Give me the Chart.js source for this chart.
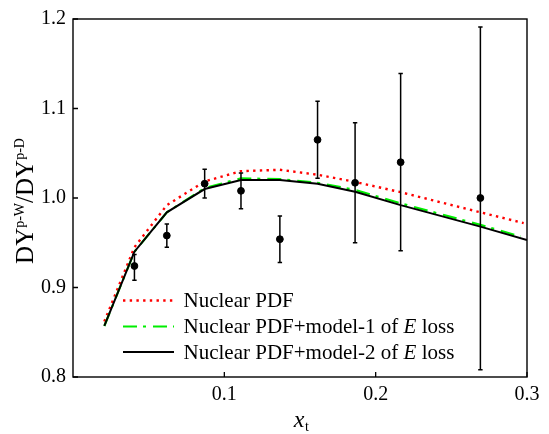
<!DOCTYPE html>
<html><head><meta charset="utf-8">
<script src="https://cdn.jsdelivr.net/npm/chart.js@4.4.1/dist/chart.umd.min.js"></script>
<style>html,body{margin:0;padding:0;background:#fff;}#wrap{width:549px;height:434px;}</style>
</head><body><div id="wrap"><canvas id="c" width="549" height="434"></canvas></div>
<script>
// ---- data ----
const xData    = [0.0406, 0.062, 0.087, 0.111, 0.1367, 0.1616, 0.1864, 0.2165, 0.2692];
const yData    = [0.924, 0.958, 1.016, 1.008, 0.954, 1.065, 1.017, 1.040, 1.000];
const yErrLow  = [0.908, 0.945, 1.000, 0.988, 0.928, 1.022, 0.950, 0.941, 0.808];
const yErrHigh = [0.937, 0.971, 1.032, 1.028, 0.980, 1.108, 1.084, 1.139, 1.191];

const xNPDF   = [0.0207, 0.0406, 0.062, 0.087, 0.111, 0.1367, 0.1616, 0.1864, 0.2165, 0.2692, 0.2978];
const yNPDF   = [0.862, 0.945, 0.992, 1.0185, 1.030, 1.0315, 1.026, 1.018, 1.0065, 0.984, 0.972];
const xModel1 = [0.0207, 0.0406, 0.062, 0.087, 0.111, 0.1367, 0.1616, 0.1864, 0.2165, 0.2692, 0.2956];
const yModel1 = [0.857, 0.940, 0.984, 1.011, 1.022, 1.021, 1.017, 1.009, 0.994, 0.970, 0.957];
const xModel2 = [0.0207, 0.0406, 0.062, 0.087, 0.111, 0.1367, 0.1616, 0.1864, 0.2165, 0.2692, 0.3];
const yModel2 = [0.857, 0.940, 0.984, 1.010, 1.020, 1.020, 1.016, 1.007, 0.992, 0.968, 0.953];

const xTicks = [0.1, 0.2, 0.3];
const yTicks = [0.8, 0.9, 1.0, 1.1, 1.2];
const legendLabels = ["Nuclear PDF", "Nuclear PDF+model-1 of {E} loss", "Nuclear PDF+model-2 of {E} loss"];
const yTitleParts = [["DY", "main"], ["p-W", "sup"], ["/", "main"], ["DY", "main"], ["p-D", "sup"]];
const xTitleParts = [["x", "main"], ["t", "sub"]];

// ---- helpers ----
const pts = (xs, ys) => xs.map((x, i) => ({x: x, y: ys[i]}));
const SERIF = "'Liberation Serif', 'Times New Roman', serif";

const decor = {
  id: 'decor',
  afterDatasetsDraw(chart) {
    const ctx = chart.ctx, xs = chart.scales.x, ys = chart.scales.y, ca = chart.chartArea;
    ctx.save();
    // error bars
    ctx.strokeStyle = '#000'; ctx.lineWidth = 1.5;
    xData.forEach((x, i) => {
      const px = xs.getPixelForValue(x);
      const top = ys.getPixelForValue(yErrHigh[i]);
      const bot = ys.getPixelForValue(yErrLow[i]);
      ctx.beginPath();
      ctx.moveTo(px, top); ctx.lineTo(px, bot);
      ctx.moveTo(px - 2.2, top); ctx.lineTo(px + 2.2, top);
      ctx.moveTo(px - 2.2, bot); ctx.lineTo(px + 2.2, bot);
      ctx.stroke();
    });
    ctx.restore();
  },
  afterDraw(chart) {
    const ctx = chart.ctx, xs = chart.scales.x, ys = chart.scales.y, ca = chart.chartArea;
    ctx.save();
    // frame
    ctx.strokeStyle = '#000'; ctx.lineWidth = 1.4;
    ctx.strokeRect(ca.left, ca.top, ca.right - ca.left, ca.bottom - ca.top);
    // inward ticks
    ctx.lineWidth = 1.3;
    ctx.beginPath();
    xTicks.forEach(v => {
      const p = xs.getPixelForValue(v);
      ctx.moveTo(p, ca.bottom); ctx.lineTo(p, ca.bottom - 5);
    });
    yTicks.forEach(v => {
      const p = ys.getPixelForValue(v);
      ctx.moveTo(ca.left, p); ctx.lineTo(ca.left + 5, p);
    });
    ctx.stroke();

    // legend
    const ds = chart.data.datasets;
    const lineYs = [300.5, 326.5, 352];
    const lx0 = 123, lx1 = 174, tx = 183.5;
    [1, 2, 3].forEach((di, r) => {
      const d = ds[di];
      const y = lineYs[r];
      ctx.save();
      ctx.strokeStyle = d.borderColor; ctx.lineWidth = d.borderWidth;
      ctx.setLineDash(d.borderDash || []);
      ctx.beginPath(); ctx.moveTo(lx0, y); ctx.lineTo(lx1, y); ctx.stroke();
      ctx.restore();
      const parts = legendLabels[r].split(/(\{[^}]*\})/).filter(s => s.length);
      let x = tx;
      ctx.fillStyle = '#000'; ctx.textBaseline = 'alphabetic'; ctx.textAlign = 'left';
      parts.forEach(p => {
        const it = p.startsWith('{');
        const s = it ? p.slice(1, -1) : p;
        ctx.font = (it ? 'italic ' : '') + '21px ' + SERIF;
        ctx.fillText(s, x, y + 6.5);
        x += ctx.measureText(s).width;
      });
    });

    // y-axis title (rotated, with superscripts)
    ctx.save();
    const cy = (ca.top + ca.bottom) / 2 + 3;
    ctx.translate(33, cy);
    ctx.rotate(-Math.PI / 2);
    const fm = '25px ' + SERIF, fs = '14px ' + SERIF;
    let total = 0;
    yTitleParts.forEach(([s, k]) => { ctx.font = k === 'main' ? fm : fs; total += ctx.measureText(s).width; });
    let x = -total / 2;
    ctx.fillStyle = '#000'; ctx.textBaseline = 'alphabetic'; ctx.textAlign = 'left';
    yTitleParts.forEach(([s, k]) => {
      ctx.font = k === 'main' ? fm : fs;
      ctx.fillText(s, x, k === 'main' ? 0 : -9.5);
      x += ctx.measureText(s).width;
    });
    ctx.restore();

    // x-axis title
    const fxm = 'italic 24px ' + SERIF, fxs = '14px ' + SERIF;
    let tw = 0;
    xTitleParts.forEach(([s, k]) => { ctx.font = k === 'main' ? fxm : fxs; tw += ctx.measureText(s).width; });
    let xx = (ca.left + ca.right) / 2 - tw / 2 + 1;
    xTitleParts.forEach(([s, k]) => {
      ctx.font = k === 'main' ? fxm : fxs;
      ctx.fillText(s, xx, k === 'main' ? 427 : 430.5);
      xx += ctx.measureText(s).width + (k === 'main' ? 0.5 : 0);
    });
    ctx.restore();
  }
};

new Chart(document.getElementById('c'), {
  type: 'scatter',
  data: {
    datasets: [
      { label: 'Data', data: pts(xData, yData), backgroundColor: '#000', borderColor: '#000',
        pointRadius: 3.4, pointHoverRadius: 3.4, showLine: false, order: 0 },
      { label: 'Nuclear PDF', data: pts(xNPDF, yNPDF), showLine: true, borderColor: '#ff0000',
        borderWidth: 2.4, borderDash: [2.4, 4.3], pointRadius: 0, fill: false, order: 3 },
      { label: 'Nuclear PDF+model-1 of E loss', data: pts(xModel1, yModel1), showLine: true, borderColor: '#00ee00',
        borderWidth: 2.2, borderDash: [14, 6, 3, 7], pointRadius: 0, fill: false, order: 2 },
      { label: 'Nuclear PDF+model-2 of E loss', data: pts(xModel2, yModel2), showLine: true, borderColor: '#000',
        borderWidth: 2, pointRadius: 0, fill: false, order: 1 }
    ]
  },
  options: {
    responsive: false, animation: false, devicePixelRatio: 1,
    layout: { padding: { top: 12, right: 22, left: 0, bottom: 0 } },
    plugins: { legend: { display: false }, tooltip: { enabled: false } },
    scales: {
      x: {
        type: 'linear', min: 0, max: 0.3,
        afterBuildTicks: s => { s.ticks = xTicks.map(v => ({ value: v })); },
        afterFit: s => { s.height = 57; },
        grid: { display: false, drawTicks: false }, border: { display: false },
        ticks: { color: '#000', padding: 6, maxRotation: 0, font: { family: SERIF, size: 20 },
                 callback: v => Number(v).toFixed(1) }
      },
      y: {
        type: 'linear', min: 0.8, max: 1.2,
        afterBuildTicks: s => { s.ticks = yTicks.map(v => ({ value: v })); },
        afterFit: s => { s.width = 73; },
        grid: { display: false, drawTicks: false }, border: { display: false },
        ticks: { color: '#000', padding: 7, font: { family: SERIF, size: 20 },
                 callback: v => Number(v).toFixed(1) }
      }
    }
  },
  plugins: [decor]
});
</script></body></html>
